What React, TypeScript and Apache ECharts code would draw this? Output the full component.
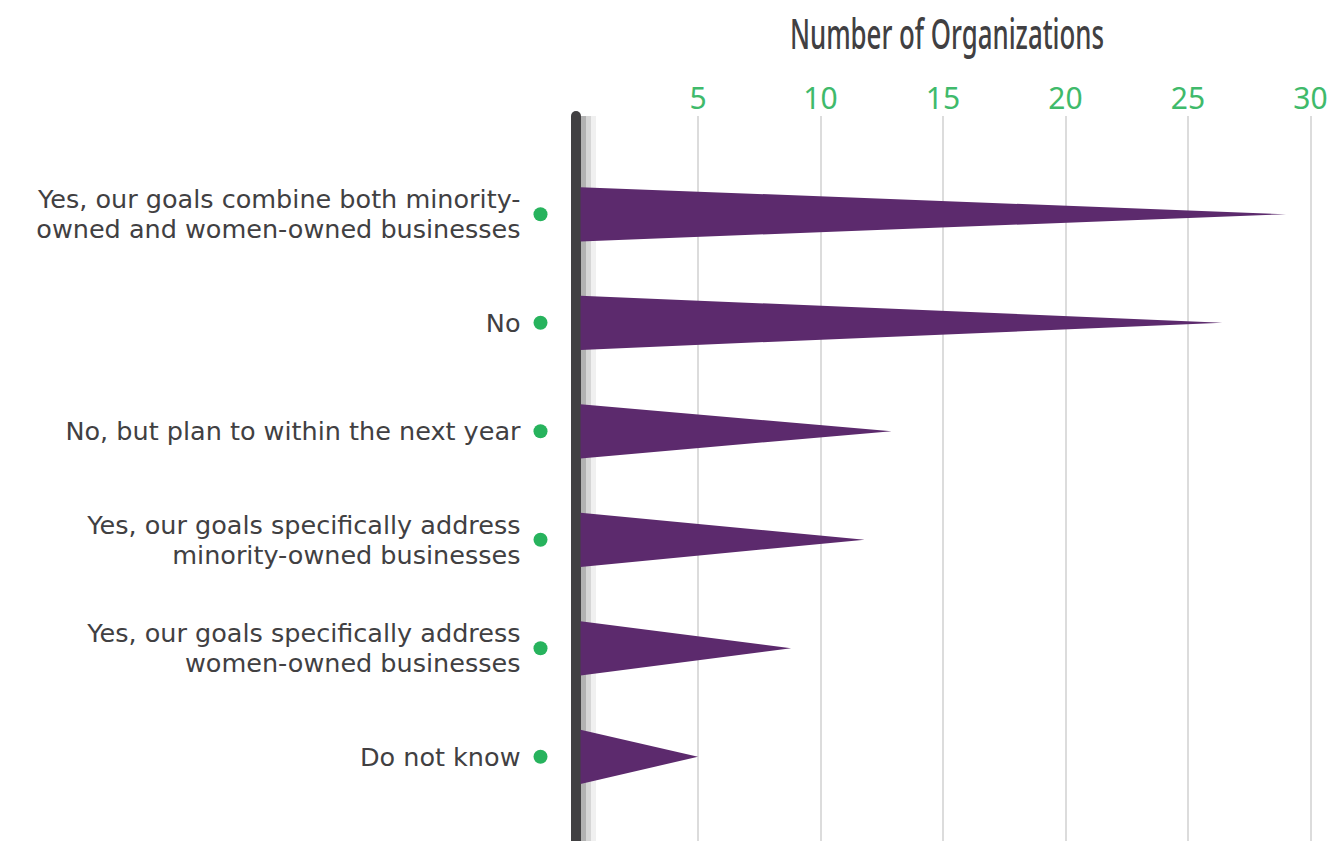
import React, { useEffect, useRef } from "react";
import * as echarts from "echarts";

const categories = [
  "Yes, our goals combine both minority-\nowned and women-owned businesses",
  "No",
  "No, but plan to within the next year",
  "Yes, our goals specifically address\nminority-owned businesses",
  "Yes, our goals specifically address\nwomen-owned businesses",
  "Do not know",
];
const values = [29, 26.4, 12.9, 11.8, 8.8, 5];
const axisTitle = "Number of Organizations";
const xMin = 0;
const xMax = 30;
const xInterval = 5;

const PURPLE = "#5c2a6d";
const GREEN_TEXT = "#3fba6b";
const GREEN_DOT = "#27b35d";
const DARK = "#414042";

function lineAxis(offset: number, width: number, color: string, z: number, cap: string) {
  return {
    type: "value",
    gridIndex: 1,
    position: "left",
    offset,
    min: 0,
    max: 1,
    z,
    axisLine: {
      show: true,
      onZero: false,
      lineStyle: { color, width, cap },
    },
    axisTick: { show: false },
    axisLabel: { show: false },
    splitLine: { show: false },
  };
}

export default function App() {
  const ref = useRef<HTMLDivElement>(null);
  useEffect(() => {
    if (!ref.current) return;
    const chart = echarts.init(ref.current, undefined, { renderer: "svg" });
    const gridLeft = 575.5;
    const gridRight = 23.5;
    chart.setOption({
      animation: false,
      graphic: [
        {
          type: "text",
          x: 947,
          y: 33,
          scaleX: 0.63,
          z: 20,
          style: {
            text: axisTitle,
            textAlign: "center",
            textVerticalAlign: "middle",
            fontFamily: "Noto Sans, sans-serif",
            fontWeight: 500,
            fontSize: 41,
            fill: DARK,
          },
        },
      ],
      grid: [
        { left: gridLeft, right: gridRight, top: 160, bottom: 30 },
        { left: gridLeft, right: gridRight, top: 116, bottom: -20 },
      ],
      xAxis: [
        { type: "value", gridIndex: 0, min: xMin, max: xMax, interval: xInterval, show: false },
        {
          type: "value",
          gridIndex: 1,
          position: "top",
          min: xMin,
          max: xMax,
          interval: xInterval,
          axisLine: { show: false },
          axisTick: { show: false },
          axisLabel: {
            margin: 4,
            color: GREEN_TEXT,
            fontFamily: "Noto Sans, sans-serif",
            fontSize: 30,
            formatter: (v: number) => (v === 0 ? "" : String(v)),
          },
          splitLine: { show: true, lineStyle: { color: "#dcdcdc", width: 2 } },
        },
      ],
      yAxis: [
        {
          type: "category",
          gridIndex: 0,
          position: "left",
          data: categories,
          inverse: true,
          axisLine: { show: false },
          axisTick: { show: false },
          axisLabel: {
            margin: 55,
            color: DARK,
            fontFamily: "DejaVu Sans, sans-serif",
            fontSize: 25.5,
            lineHeight: 30,
            align: "right",
          },
          splitLine: { show: false },
        },
        lineAxis(-17.5, 5, "rgba(0,0,0,0.06)", 7, "butt"),
        lineAxis(-12.5, 5, "rgba(0,0,0,0.16)", 8, "butt"),
        lineAxis(-7.5, 5, "rgba(0,0,0,0.3)", 9, "butt"),
        lineAxis(0, 10, DARK, 10, "round"),
        {
          type: "category",
          gridIndex: 0,
          position: "left",
          data: categories,
          inverse: true,
          axisLine: { show: false },
          axisTick: { show: false },
          axisLabel: {
            margin: 28,
            align: "right",
            formatter: () => "{d| }",
            rich: {
              d: {
                width: 14,
                height: 14,
                borderRadius: 7,
                backgroundColor: GREEN_DOT,
              },
            },
          },
          splitLine: { show: false },
        },
      ],
      series: [
        {
          type: "custom",
          xAxisIndex: 0,
          yAxisIndex: 0,
          z: 12,
          data: values.map((v, i) => [i, v]),
          encode: { x: 1, y: 0 },
          renderItem: (params: any, api: any) => {
            const cat = api.value(0);
            const val = api.value(1);
            const start = api.coord([0, cat]);
            const end = api.coord([val, cat]);
            const half = api.size([0, 1])[1] / 4;
            return {
              type: "polygon",
              shape: {
                points: [
                  [start[0] + 5, start[1] - half],
                  [end[0], end[1]],
                  [start[0] + 5, start[1] + half],
                ],
              },
              style: { fill: PURPLE },
            };
          },
        },
      ],
    });
    return () => chart.dispose();
  }, []);
  return (
    <div
      ref={ref}
      style={{ position: "absolute", left: 0, top: 0, width: 1334, height: 841, background: "#fff" }}
    />
  );
}
